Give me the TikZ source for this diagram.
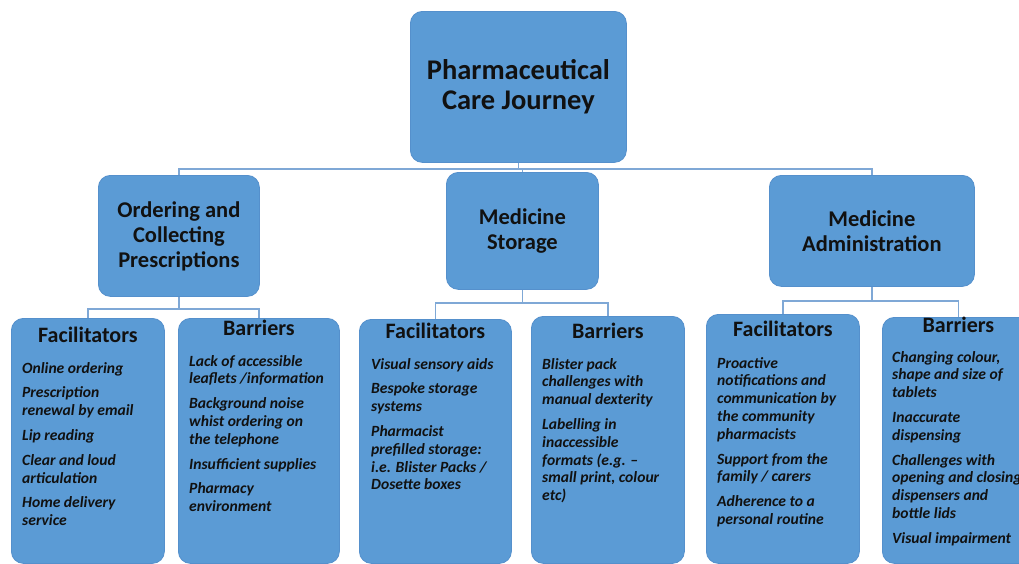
\documentclass[tikz,border=0pt]{standalone}
\usepackage{fontspec}
\setmainfont{Carlito}
\definecolor{boxblue}{HTML}{5B9BD5}
\definecolor{boxline}{HTML}{5590CC}
\definecolor{connblue}{HTML}{7FA8D6}
\definecolor{txt}{HTML}{111111}
\tikzset{
  pbox/.style={draw=boxline, fill=boxblue, line width=0.8pt, rounded corners=12pt,
    inner sep=0pt, anchor=north west, text=txt, align=center},
  conn/.style={draw=connblue, line width=1.6pt},
  toptext/.style={font=\bfseries\fontsize{28.5}{30.5}\selectfont},
  midtext/.style={font=\bfseries\fontsize{22.5}{25}\selectfont},
  coltitle/.style={font=\bfseries\fontsize{22}{24}\selectfont, text=txt, anchor=center, inner sep=0pt},
  items/.style={font=\bfseries\itshape\fontsize{15.6}{17.8}\selectfont, text=txt, align=left, anchor=north west, inner sep=0pt},
}
\begin{document}
\begin{tikzpicture}[x=1pt,y=-1pt]
\clip (0,0) rectangle (1019,563);
\fill[white] (0,0) rectangle (1019,563);
% top
\node[pbox, toptext, minimum width=216pt, minimum height=151pt] (top) at (410,11) {Pharmaceutical\\Care Journey};
% middle row
\node[pbox, midtext, minimum width=161pt, minimum height=121pt] (ord) at (98,175) {Ordering and\\Collecting\\Prescriptions};
\node[pbox, midtext, minimum width=152pt, minimum height=117pt] (sto) at (446,172) {Medicine\\Storage};
\node[pbox, midtext, minimum width=205pt, minimum height=111pt] (adm) at (769,175) {Medicine\\Administration};
% bottom row
\node[pbox, minimum width=153pt, minimum height=245pt] (of) at (11,318) {};
\node[pbox, minimum width=161pt, minimum height=245pt] (ob) at (178,318) {};
\node[pbox, minimum width=152pt, minimum height=244pt] (sf) at (359,319) {};
\node[pbox, minimum width=153pt, minimum height=247pt] (sb) at (531,316) {};
\node[pbox, minimum width=153pt, minimum height=249pt] (af) at (706,314) {};
\node[pbox, minimum width=152pt, minimum height=246pt] (ab) at (882,317) {};
% connectors
\draw[conn] (top.south) -- ++(0,6) -| (ord.north);
\draw[conn] (top.south) -- ++(0,6) -| (sto.north);
\draw[conn] (top.south) -- ++(0,6) -| (adm.north);
\draw[conn] (ord.south) -- ++(0,12) -| (of.north);
\draw[conn] (ord.south) -- ++(0,12) -| (ob.north);
\draw[conn] (sto.south) -- ++(0,13) -| (sf.north);
\draw[conn] (sto.south) -- ++(0,13) -| (sb.north);
\draw[conn] (adm.south) -- ++(0,14) -| (af.north);
\draw[conn] (adm.south) -- ++(0,14) -| (ab.north);
% titles
\node[coltitle] (oft) at ([yshift=-17pt]of.north) {Facilitators};
\node[coltitle] (obt) at ([yshift=-10pt]ob.north) {Barriers};
\node[coltitle] (sft) at ([yshift=-12pt]sf.north) {Facilitators};
\node[coltitle] (sbt) at ([yshift=-15pt]sb.north) {Barriers};
\node[coltitle] (aft) at ([yshift=-15pt]af.north) {Facilitators};
\node[coltitle] (abt) at ([yshift=-8pt]ab.north) {Barriers};
% items
\node[items] (ofi) at (22,362) {Online ordering\\[7pt]Prescription\\renewal by email\\[7pt]Lip reading\\[7pt]Clear and loud\\articulation\\[7pt]Home delivery\\service};
\node[items] (obi) at (189,355) {Lack of accessible\\leaflets /information\\[7pt]Background noise\\whist ordering on\\the telephone\\[7pt]Insufficient supplies\\[7pt]Pharmacy\\environment};
\node[items] (sfi) at (371,358) {Visual sensory aids\\[7pt]Bespoke storage\\systems\\[7pt]Pharmacist\\prefilled storage:\\i.e. Blister Packs /\\Dosette boxes};
\node[items] (sbi) at (542,358) {Blister pack\\challenges with\\manual dexterity\\[7pt]Labelling in\\inaccessible\\formats (e.g. --\\small print, colour\\etc)};
\node[items] (afi) at (717,357) {Proactive\\notifications and\\communication by\\the community\\pharmacists\\[7pt]Support from the\\family / carers\\[7pt]Adherence to a\\personal routine};
\node[items] (abi) at (892,351) {Changing colour,\\shape and size of\\tablets\\[7pt]Inaccurate\\dispensing\\[7pt]Challenges with\\opening and closing\\dispensers and\\bottle lids\\[7pt]Visual impairment};
\end{tikzpicture}
\end{document}
